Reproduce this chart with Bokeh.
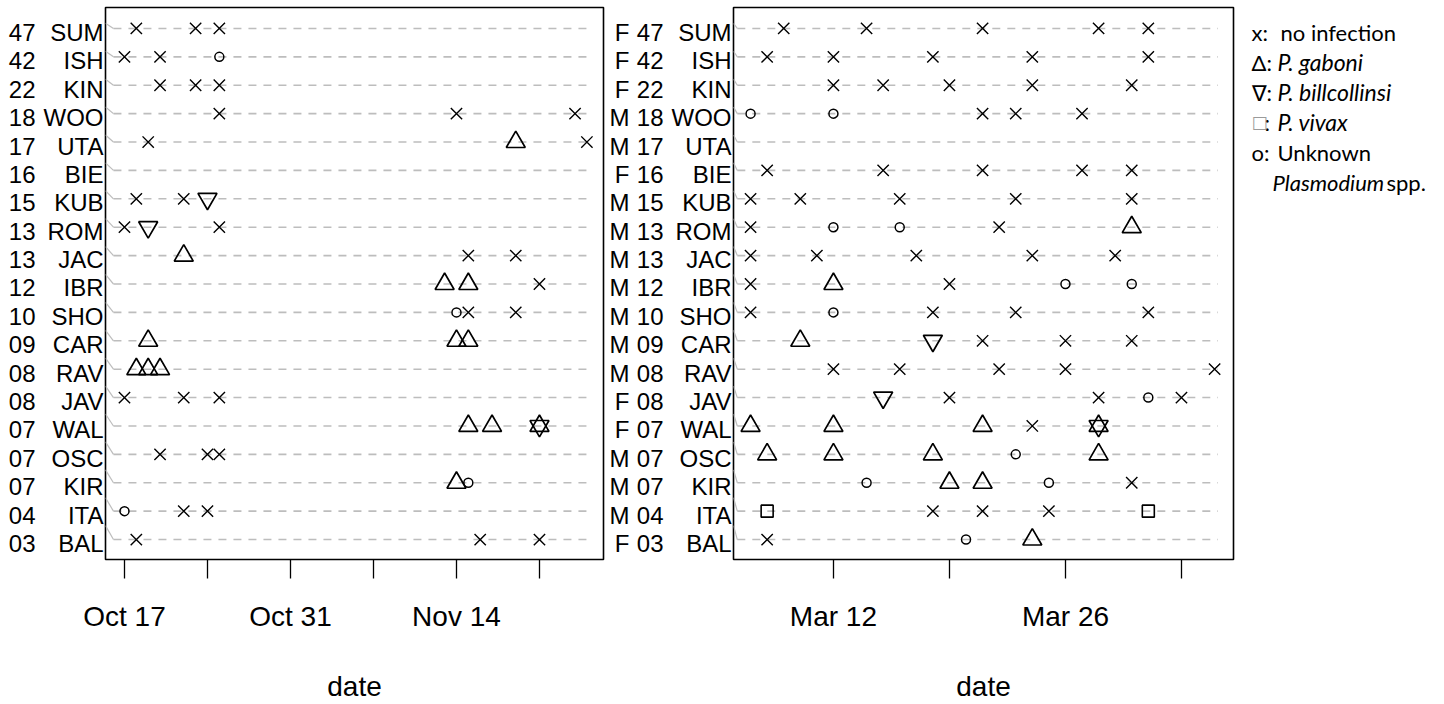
import pandas as pd
from bokeh.plotting import figure
from bokeh.layouts import row
from bokeh.models import Range1d, FixedTicker, LinearAxis, ColumnDataSource
from bokeh.embed import file_html
from bokeh.resources import INLINE
from bokeh.core.properties import value

# ---------------- data ----------------
ids = ["SUM", "ISH", "KIN", "WOO", "UTA", "BIE", "KUB", "ROM", "JAC", "IBR",
       "SHO", "CAR", "RAV", "JAV", "WAL", "OSC", "KIR", "ITA", "BAL"]
ages = ["47", "42", "22", "18", "17", "16", "15", "13", "13", "12",
        "10", "09", "08", "08", "07", "07", "07", "04", "03"]
sexes = ["F", "F", "F", "M", "M", "F", "M", "M", "M", "M",
         "M", "M", "M", "F", "F", "M", "M", "M", "F"]

# autumn sampling (left panel)
oct_ticks = ["2013-10-17", "2013-10-24", "2013-10-31", "2013-11-07", "2013-11-14", "2013-11-21"]
oct_tick_labels = ["Oct 17", "", "Oct 31", "", "Nov 14", ""]
oct_none = [("SUM", "2013-10-18"), ("SUM", "2013-10-23"), ("SUM", "2013-10-25"),
            ("ISH", "2013-10-17"), ("ISH", "2013-10-20"),
            ("KIN", "2013-10-20"), ("KIN", "2013-10-23"), ("KIN", "2013-10-25"),
            ("WOO", "2013-10-25"), ("WOO", "2013-11-14"), ("WOO", "2013-11-24"),
            ("UTA", "2013-10-19"), ("UTA", "2013-11-25"),
            ("KUB", "2013-10-18"), ("KUB", "2013-10-22"),
            ("ROM", "2013-10-17"), ("ROM", "2013-10-25"),
            ("JAC", "2013-11-15"), ("JAC", "2013-11-19"),
            ("IBR", "2013-11-21"),
            ("SHO", "2013-11-15"), ("SHO", "2013-11-19"),
            ("JAV", "2013-10-17"), ("JAV", "2013-10-22"), ("JAV", "2013-10-25"),
            ("OSC", "2013-10-20"), ("OSC", "2013-10-24"), ("OSC", "2013-10-25"),
            ("ITA", "2013-10-22"), ("ITA", "2013-10-24"),
            ("BAL", "2013-10-18"), ("BAL", "2013-11-16"), ("BAL", "2013-11-21")]
oct_gaboni = [("UTA", "2013-11-19"), ("JAC", "2013-10-22"),
              ("IBR", "2013-11-13"), ("IBR", "2013-11-15"),
              ("CAR", "2013-10-19"), ("CAR", "2013-11-14"), ("CAR", "2013-11-15"),
              ("RAV", "2013-10-18"), ("RAV", "2013-10-19"), ("RAV", "2013-10-20"),
              ("WAL", "2013-11-15"), ("WAL", "2013-11-17"), ("WAL", "2013-11-21"),
              ("KIR", "2013-11-14")]
oct_billcollinsi = [("KUB", "2013-10-24"), ("ROM", "2013-10-19"), ("WAL", "2013-11-21")]
oct_vivax = []
oct_unknown = [("ISH", "2013-10-25"), ("SHO", "2013-11-14"), ("KIR", "2013-11-15"),
               ("ITA", "2013-10-17")]

# spring sampling (right panel)
mar_ticks = ["2014-03-12", "2014-03-19", "2014-03-26", "2014-04-02"]
mar_tick_labels = ["Mar 12", "", "Mar 26", ""]
mar_none = [("SUM", "2014-03-09"), ("SUM", "2014-03-14"), ("SUM", "2014-03-21"), ("SUM", "2014-03-28"), ("SUM", "2014-03-31"),
            ("ISH", "2014-03-08"), ("ISH", "2014-03-12"), ("ISH", "2014-03-18"), ("ISH", "2014-03-24"), ("ISH", "2014-03-31"),
            ("KIN", "2014-03-12"), ("KIN", "2014-03-15"), ("KIN", "2014-03-19"), ("KIN", "2014-03-24"), ("KIN", "2014-03-30"),
            ("WOO", "2014-03-21"), ("WOO", "2014-03-23"), ("WOO", "2014-03-27"),
            ("BIE", "2014-03-08"), ("BIE", "2014-03-15"), ("BIE", "2014-03-21"), ("BIE", "2014-03-27"), ("BIE", "2014-03-30"),
            ("KUB", "2014-03-07"), ("KUB", "2014-03-10"), ("KUB", "2014-03-16"), ("KUB", "2014-03-23"), ("KUB", "2014-03-30"),
            ("ROM", "2014-03-07"), ("ROM", "2014-03-22"),
            ("JAC", "2014-03-07"), ("JAC", "2014-03-11"), ("JAC", "2014-03-17"), ("JAC", "2014-03-24"), ("JAC", "2014-03-29"),
            ("IBR", "2014-03-07"), ("IBR", "2014-03-19"),
            ("SHO", "2014-03-07"), ("SHO", "2014-03-18"), ("SHO", "2014-03-23"), ("SHO", "2014-03-31"),
            ("CAR", "2014-03-21"), ("CAR", "2014-03-26"), ("CAR", "2014-03-30"),
            ("RAV", "2014-03-12"), ("RAV", "2014-03-16"), ("RAV", "2014-03-22"), ("RAV", "2014-03-26"), ("RAV", "2014-04-04"),
            ("JAV", "2014-03-19"), ("JAV", "2014-03-28"), ("JAV", "2014-04-02"),
            ("WAL", "2014-03-24"),
            ("KIR", "2014-03-30"),
            ("ITA", "2014-03-18"), ("ITA", "2014-03-21"), ("ITA", "2014-03-25"),
            ("BAL", "2014-03-08")]
mar_gaboni = [("ROM", "2014-03-30"), ("IBR", "2014-03-12"), ("CAR", "2014-03-10"),
              ("WAL", "2014-03-07"), ("WAL", "2014-03-12"), ("WAL", "2014-03-21"), ("WAL", "2014-03-28"),
              ("OSC", "2014-03-08"), ("OSC", "2014-03-12"), ("OSC", "2014-03-18"), ("OSC", "2014-03-28"),
              ("KIR", "2014-03-19"), ("KIR", "2014-03-21"), ("BAL", "2014-03-24")]
mar_billcollinsi = [("CAR", "2014-03-18"), ("JAV", "2014-03-15"), ("WAL", "2014-03-28")]
mar_vivax = [("ITA", "2014-03-08"), ("ITA", "2014-03-31")]
mar_unknown = [("WOO", "2014-03-07"), ("WOO", "2014-03-12"), ("ROM", "2014-03-12"), ("ROM", "2014-03-16"),
               ("IBR", "2014-03-26"), ("IBR", "2014-03-30"), ("SHO", "2014-03-12"), ("JAV", "2014-03-31"),
               ("OSC", "2014-03-23"), ("KIR", "2014-03-14"), ("KIR", "2014-03-25"), ("BAL", "2014-03-20")]

axis_title = "date"
legend_symbols = ["x:", "\u0394:", "\u2207:", "\u25a1", "o:"]
legend_texts = ["no infection", "P. gaboni", "P. billcollinsi", "P. vivax", "Unknown"]
legend_last = ["Plasmodium", "spp."]

# ---------------- layout constants ----------------
FONT = "Liberation Sans"
H = 704
TOP, BOTTOM = 7, 144
Y0, Y1 = 0.297, 19.738
row_of = {k: len(ids) - i for i, k in enumerate(ids)}
rows = [row_of[k] for k in ids]
n = len(ids)
LABEL_SHIFT = 0.14   # labels sit slightly below their guide line


def days(dates, ref):
    r = pd.Timestamp(ref)
    return [(pd.Timestamp(d) - r).days for d in dates]


def src(obs, ref):
    return ColumnDataSource(dict(x=days([d for _, d in obs], ref), y=[row_of[k] for k, _ in obs]))


def label_axis(p, labels, standoff, first=False):
    if first:
        ax = p.yaxis[0]
    else:
        ax = LinearAxis()
        p.add_layout(ax, "left")
    pos = [round(r - LABEL_SHIFT, 2) for r in rows]
    ax.ticker = FixedTicker(ticks=pos)
    ax.major_label_overrides = {t: l for t, l in zip(pos, labels)}
    ax.axis_line_color = None
    ax.major_tick_line_color = None
    ax.minor_tick_line_color = None
    ax.major_tick_out = 0
    ax.major_tick_in = 0
    ax.major_label_standoff = standoff
    ax.major_label_text_font = FONT
    ax.major_label_text_font_size = "24px"
    ax.major_label_text_color = "black"
    ax.axis_label = None
    return ax


def panel(width, bl, br, view, dash_span, ticks, tick_labels, obs_sets, with_sex):
    ref = ticks[0]
    p = figure(width=width, height=H, x_range=Range1d(*view), y_range=Range1d(Y0, Y1),
               output_backend="svg", toolbar_location=None,
               min_border_left=bl, min_border_right=br, min_border_top=TOP, min_border_bottom=BOTTOM)
    p.grid.visible = False
    p.outline_line_color = "black"
    p.outline_line_width = 1.6
    p.background_fill_color = "white"
    p.border_fill_color = "white"

    tx = days(ticks, ref)
    xa = p.xaxis[0]
    xa.ticker = FixedTicker(ticks=tx)
    xa.major_label_overrides = {t: l for t, l in zip(tx, tick_labels)}
    xa.axis_line_color = None
    xa.major_tick_out = 19
    xa.major_tick_in = 0
    xa.major_tick_line_color = "black"
    xa.major_tick_line_width = 1.3
    xa.minor_tick_line_color = None
    xa.major_label_standoff = 22
    xa.major_label_text_font = FONT
    xa.major_label_text_font_size = "28px"
    xa.major_label_text_color = "black"
    xa.axis_label = axis_title
    xa.axis_label_standoff = 36
    xa.axis_label_text_font = FONT
    xa.axis_label_text_font_size = "28px"
    xa.axis_label_text_font_style = "normal"
    xa.axis_label_text_color = "black"

    label_axis(p, ids, 2, first=True)
    label_axis(p, ages, 5)
    if with_sex:
        label_axis(p, sexes, 4)

    # leader lines and dashed guide lines
    offs = [0.18 + 0.31 * i / (n - 1) for i in range(n)]
    p.segment(x0=[view[0]] * n, y0=[r + o for r, o in zip(rows, offs)],
              x1=[dash_span[0]] * n, y1=rows, line_color="#bdbdbd", line_width=1.2)
    p.segment(x0=[dash_span[0]] * n, y0=rows, x1=[dash_span[1]] * n, y1=rows,
              line_color="#bdbdbd", line_width=1.6, line_dash="8 7")

    none, gab, bill, viv, unk = obs_sets
    p.scatter("x", "y", source=src(none, ref), marker="x", size=16,
              line_color="black", line_width=1.4)
    p.scatter("x", "y", source=src(gab, ref), marker="triangle", size=19,
              fill_color=None, line_color="black", line_width=1.7)
    p.scatter("x", "y", source=src(bill, ref), marker="inverted_triangle", size=19,
              fill_color=None, line_color="black", line_width=1.7)
    p.scatter("x", "y", source=src(viv, ref), marker="square", size=12,
              fill_color=None, line_color="black", line_width=1.6)
    p.scatter("x", "y", source=src(unk, ref), marker="circle", size=9,
              fill_color=None, line_color="black", line_width=1.5)
    return p


p1 = panel(605, 105, 2, (-1.6, 40.4), (-0.93, 39.46), oct_ticks, oct_tick_labels,
           (oct_none, oct_gaboni, oct_billcollinsi, oct_vivax, oct_unknown), False)
p2 = panel(635, 128, 7, (-6.03, 24.14), (-5.8, 23.2), mar_ticks, mar_tick_labels,
           (mar_none, mar_gaboni, mar_billcollinsi, mar_vivax, mar_unknown), True)

# ---------------- legend panel (coordinates = page pixels) ----------------
LW = 200
p3 = figure(width=LW, height=H, x_range=Range1d(1240, 1240 + LW),
            y_range=Range1d(H - BOTTOM, TOP),
            output_backend="svg", toolbar_location=None,
            min_border_left=0, min_border_right=0, min_border_top=TOP, min_border_bottom=BOTTOM,
            x_axis_type=None, y_axis_type=None)
p3.grid.visible = False
p3.outline_line_color = None
p3.background_fill_color = "white"
p3.border_fill_color = "white"
LFONT = value("Lato")
FS, FSI = "22px", "23px"
ly = [32, 62, 92, 122, 152, 182]
p3.text(x=[1251, 1251, 1251, 1264, 1251], y=ly[:5],
        text=[legend_symbols[0], legend_symbols[1], legend_symbols[2], ":", legend_symbols[4]],
        text_font=LFONT, text_font_size=FS, text_baseline="middle", text_color="black")
p3.text(x=[1251], y=[ly[3]], text=[legend_symbols[3]], text_font=value("DejaVu Sans"),
        text_font_size="17px", text_baseline="middle", text_color="#9a9a9a")
p3.text(x=[1280, 1277], y=[ly[0], ly[4]], text=[legend_texts[0], legend_texts[4]],
        text_font=LFONT, text_font_size=FS, text_baseline="middle", text_color="black")
p3.text(x=[1277, 1277, 1277], y=ly[1:4], text=legend_texts[1:4],
        text_font=LFONT, text_font_size=FSI, text_baseline="middle",
        text_font_style="italic", text_color="black")
p3.text(x=[1272], y=[ly[5]], text=[legend_last[0]], text_font=LFONT, text_font_size=FS,
        text_baseline="middle", text_font_style="italic", text_color="black")
p3.text(x=[1386], y=[ly[5]], text=[legend_last[1]], text_font=LFONT, text_font_size=FS,
        text_baseline="middle", text_color="black")

layout = row(p1, p2, p3)
open("out.html", "w").write(file_html(layout, INLINE))
